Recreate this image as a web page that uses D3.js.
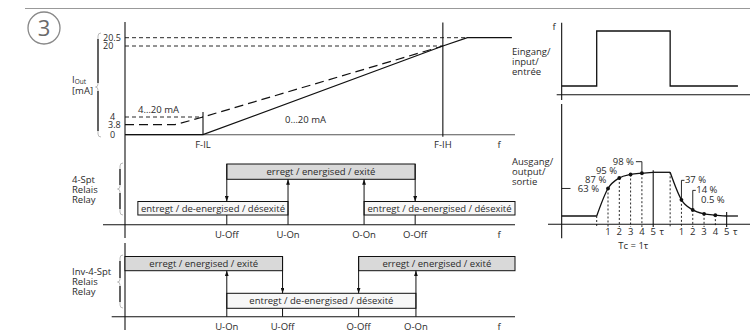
<!DOCTYPE html>
<html>
<head>
<meta charset="utf-8">
<script src="https://cdn.jsdelivr.net/npm/d3@7"></script>
<style>
  body { margin: 0; background: #fff; }
  svg text { font-family: "Liberation Sans Narrow", "Open Sans", sans-serif; font-size: 9.5px; fill: #2a2a2a; }
</style>
</head>
<body>
<div id="chart"></div>
<script>
// ---- data: analog output ----
const currentTicks = [0, 3.8, 4, 20, 20.5];
const currentTickLabels = ["0", "3.8", "4", "20", "20.5"];
const out0to20 = [[0, 0], [20, 0], [81.5, 20], [87.8, 20.5], [99.2, 20.5]];
const out4to20 = [[0, 3.8], [12.8, 3.8], [20, 4], [81.5, 20]];
const refLevels = [4, 20, 20.5];
const refLevelEnds = [20, 81.5, 87.8];
const freqMarkNames = ["F-IL", "F-IH"];
const freqMarks = [20, 81.5];

// ---- data: relay (4-Spt) ----
const sptNames = ["U-Off", "U-On", "O-On", "O-Off"];
const sptFreq = [26.1, 41.8, 61.3, 74.4];
const sptDir = ["down", "up", "up", "down"];
const sptStateText = ["erregt / energised / exité", "entregt / de-energised / désexité", "entregt / de-energised / désexité"];
const sptStateFrom = [26.1, 3.3, 61.3];
const sptStateTo = [74.4, 41.8, 100];
const sptStateOn = [true, false, false];

// ---- data: relay (Inv-4-Spt) ----
const invNames = ["U-On", "U-Off", "O-Off", "O-On"];
const invFreq = [26.1, 40.4, 59.9, 74.6];
const invDir = ["up", "down", "down", "up"];
const invStateText = ["erregt / energised / exité", "entregt / de-energised / désexité", "erregt / energised / exité"];
const invStateFrom = [0, 26.1, 59.9];
const invStateTo = [40.4, 74.6, 100];
const invStateOn = [true, false, true];

// ---- data: time response ----
const inputPulse = [[-3.1, 0], [0, 0], [0, 1], [6.5, 1], [6.5, 0], [12.5, 0]];
const riseTau = [0, 1, 2, 3, 4, 5];
const riseLevel = [0, 0.63, 0.87, 0.95, 0.98, 1];
const fallTau = [0, 1, 2, 3, 4, 5];
const fallLevel = [1, 0.37, 0.14, 0.05, 0.02, 0];
const fallStart = 6.5;
const riseLabels = ["63 %", "87 %", "95 %", "98 %"];
const fallLabels = ["37 %", "14 %", "0.5 %"];
const tauTickLabels = ["1", "2", "3", "4", "5", "τ"];
const tauTickPos = [1, 2, 3, 4, 5, 5.75];

const width = 750, height = 335;
const ink = "#111";

const svg = d3.select("#chart").append("svg")
    .attr("width", width)
    .attr("height", height);

const defs = svg.append("defs");
defs.append("marker")
    .attr("id", "arrow")
    .attr("viewBox", "0 0 10 7")
    .attr("refX", 10).attr("refY", 3.5)
    .attr("markerWidth", 5.5).attr("markerHeight", 3.8)
    .attr("markerUnits", "userSpaceOnUse")
    .attr("orient", "auto")
    .append("path").attr("d", "M0,0 L10,3.5 L0,7 Z").attr("fill", ink);

// header rule + number badge
svg.append("line").attr("x1", 25).attr("x2", 750).attr("y1", 8.5).attr("y2", 8.5)
    .attr("stroke", "#999").attr("stroke-width", 1);
svg.append("circle").attr("cx", 44).attr("cy", 28).attr("r", 16)
    .attr("fill", "none").attr("stroke", "#888").attr("stroke-width", 1.3);
svg.append("text").attr("x", 44).attr("y", 36).attr("text-anchor", "middle")
    .style("font-family", "'Open Sans', sans-serif").style("font-size", "22px").style("fill", "#6a6a6a").text("3");

// brace helper
function brace(x, y0, y1, ym) {
    const p = `M${x + 3},${y0} q-3,0 -3,3 L${x},${ym - 3} q0,3 -2.5,3 q2.5,0 2.5,3 L${x},${y1 - 3} q0,3 3,3`;
    svg.append("path").attr("d", p).attr("fill", "none").attr("stroke", "#aaa").attr("stroke-width", 0.8);
    svg.append("line").attr("x1", x).attr("x2", x).attr("y1", y0 + 6).attr("y2", ym - 4)
        .attr("stroke", ink).attr("stroke-width", 1.2);
    svg.append("line").attr("x1", x).attr("x2", x).attr("y1", ym + 4).attr("y2", y1 - 6)
        .attr("stroke", ink).attr("stroke-width", 1.2);
}

// ===== left: output current vs frequency =====
const fx = d3.scaleLinear().domain([0, 100]).range([125, 515]);
const yI = d3.scaleLinear().domain(currentTicks).range([134.7, 124.7, 117, 46, 37.7]);

const topG = svg.append("g");
// axes
topG.append("line").attr("x1", fx(0)).attr("x2", fx(0)).attr("y1", 22).attr("y2", 238)
    .attr("stroke", ink).attr("stroke-width", 1.1);
topG.append("line").attr("x1", fx(0)).attr("x2", fx(100)).attr("y1", yI(0)).attr("y2", yI(0))
    .attr("stroke", "#555").attr("stroke-width", 1.1);

// reference dashes
refLevels.forEach((lv, i) => {
    topG.append("line").attr("x1", fx(0)).attr("x2", fx(refLevelEnds[i]))
        .attr("y1", yI(lv)).attr("y2", yI(lv))
        .attr("stroke", ink).attr("stroke-width", 0.9).attr("stroke-dasharray", "4,3");
});

// tick labels (tight rows, slightly smaller)
const tickLabelX = { "0": 110, "3.8": 108, "4": 110, "20": 103, "20.5": 103 };
currentTicks.forEach((v, i) => {
    topG.append("text").attr("x", tickLabelX[currentTickLabels[i]]).attr("y", yI(v) + 3)
        .style("font-size", "9px").text(currentTickLabels[i]);
});
brace(98, 33, 137, 87);
const iLabel = topG.append("text").attr("x", 72).attr("y", 83);
iLabel.append("tspan").text("I");
iLabel.append("tspan").attr("dy", 1).style("font-size", "6.5px").text("Out");
topG.append("text").attr("x", 72).attr("y", 94).text("[mA]");

// frequency marks
freqMarks.forEach((f, i) => {
    topG.append("line").attr("x1", fx(f)).attr("x2", fx(f))
        .attr("y1", i === 0 ? yI(4) - 5 : 22.5).attr("y2", yI(0) + (i === 0 ? 0 : 2))
        .attr("stroke", ink).attr("stroke-width", 1.1);
    topG.append("text").attr("x", fx(f)).attr("y", 148).attr("text-anchor", "middle").text(freqMarkNames[i]);
});
topG.append("text").attr("x", fx(95.9)).attr("y", 148).attr("text-anchor", "middle").text("f");

const lineI = d3.line().x(d => fx(d[0])).y(d => yI(d[1]));
topG.append("path").attr("d", lineI(out4to20)).attr("fill", "none")
    .attr("stroke", ink).attr("stroke-width", 1.2).attr("stroke-dasharray", "9,5");
topG.append("path").attr("d", lineI(out0to20)).attr("fill", "none")
    .attr("stroke", ink).attr("stroke-width", 1.3);
topG.append("text").attr("x", 138).attr("y", 113).text("4…20 mA");
topG.append("text").attr("x", 285).attr("y", 123).text("0…20 mA");

// ===== relay panels =====
function drawRelay(names, freqs, dirs, texts, froms, tos, ons, geo, rowLabels) {
    const g = svg.append("g");
    g.append("line").attr("x1", geo.axisStart).attr("x2", fx(100)).attr("y1", geo.axisY).attr("y2", geo.axisY)
        .attr("stroke", ink).attr("stroke-width", 1.1);
    texts.forEach((t, i) => {
        const y0 = ons[i] ? geo.onTop : geo.offTop;
        const y1 = ons[i] ? geo.onBottom : geo.offBottom;
        g.append("rect").attr("x", fx(froms[i])).attr("y", y0)
            .attr("width", fx(tos[i]) - fx(froms[i])).attr("height", y1 - y0)
            .attr("fill", ons[i] ? "#d9d9d9" : "#f7f7f7").attr("stroke", ink).attr("stroke-width", 1);
        g.append("text").attr("x", (fx(froms[i]) + fx(tos[i])) / 2).attr("y", (y0 + y1) / 2 + 3.3)
            .attr("text-anchor", "middle").text(t);
    });
    names.forEach((n, i) => {
        const x = fx(freqs[i]);
        if (dirs[i] === "down") {
            g.append("line").attr("x1", x).attr("x2", x).attr("y1", geo.onTop).attr("y2", geo.offTop)
                .attr("stroke", ink).attr("stroke-width", 1).attr("marker-end", "url(#arrow)");
            g.append("line").attr("x1", x).attr("x2", x).attr("y1", geo.offBottom).attr("y2", geo.axisY)
                .attr("stroke", ink).attr("stroke-width", 1);
        } else {
            g.append("line").attr("x1", x).attr("x2", x).attr("y1", geo.axisY).attr("y2", geo.onBottom)
                .attr("stroke", ink).attr("stroke-width", 1).attr("marker-end", "url(#arrow)");
        }
        g.append("text").attr("x", x).attr("y", geo.labelY).attr("text-anchor", "middle").text(n);
    });
    g.append("text").attr("x", fx(95.9)).attr("y", geo.labelY).attr("text-anchor", "middle").text("f");
    rowLabels.forEach((t, i) => {
        g.append("text").attr("x", 72).attr("y", geo.rowY + i * 10).text(t);
    });
    brace(120, geo.braceTop, geo.braceBottom, geo.braceMid);
}

drawRelay(sptNames, sptFreq, sptDir, sptStateText, sptStateFrom, sptStateTo, sptStateOn,
    { onTop: 164, onBottom: 179.3, offTop: 201.5, offBottom: 215, axisY: 224.7, labelY: 238,
      axisStart: 103, rowY: 182.5, braceTop: 163, braceBottom: 215, braceMid: 189 },
    ["4-Spt", "Relais", "Relay"]);

svg.append("line").attr("x1", fx(0)).attr("x2", fx(0)).attr("y1", 243).attr("y2", 330)
    .attr("stroke", ink).attr("stroke-width", 1.1);

drawRelay(invNames, invFreq, invDir, invStateText, invStateFrom, invStateTo, invStateOn,
    { onTop: 256.5, onBottom: 270.7, offTop: 293.3, offBottom: 308.3, axisY: 316.7, labelY: 330,
      axisStart: 111.7, rowY: 275, braceTop: 255, braceBottom: 308, braceMid: 282 },
    ["Inv-4-Spt", "Relais", "Relay"]);

// ===== right: step response =====
const tx = d3.scaleLinear().domain([0, 10]).range([596.7, 709.7]);
const yIn = d3.scaleLinear().domain([0, 1]).range([86, 31]);
const yOut = d3.scaleLinear().domain([0, 1]).range([216, 172.3]);
const axX = tx(-3.1);

const r = svg.append("g");
r.append("line").attr("x1", axX).attr("x2", axX).attr("y1", 22.7).attr("y2", 100)
    .attr("stroke", ink).attr("stroke-width", 1.1);
r.append("line").attr("x1", axX).attr("x2", axX).attr("y1", 104).attr("y2", 238.3)
    .attr("stroke", ink).attr("stroke-width", 1.1);
r.append("line").attr("x1", 556.7).attr("x2", 750).attr("y1", 94.7).attr("y2", 94.7)
    .attr("stroke", ink).attr("stroke-width", 1.1);
r.append("line").attr("x1", 548).attr("x2", 750).attr("y1", 224.3).attr("y2", 224.3)
    .attr("stroke", ink).attr("stroke-width", 1.1);
r.append("text").attr("x", 554).attr("y", 30).attr("text-anchor", "middle").text("f");

["Eingang/", "input/", "entrée"].forEach((t, i) => r.append("text").attr("x", 512).attr("y", 55 + i * 10).text(t));
["Ausgang/", "output/", "sortie"].forEach((t, i) => r.append("text").attr("x", 512).attr("y", 165 + i * 10).text(t));

const lineIn = d3.line().x(d => tx(d[0])).y(d => yIn(d[1]));
r.append("path").attr("d", lineIn(inputPulse)).attr("fill", "none").attr("stroke", ink).attr("stroke-width", 1.3);

const lineOut = d3.line().x(d => tx(d[0])).y(d => yOut(d[1]));
const curveOut = d3.line().x(d => tx(d[0])).y(d => yOut(d[1])).curve(d3.curveMonotoneX);
const rise = riseTau.map((t, i) => [t, riseLevel[i]]);
const fall = fallTau.map((t, i) => [fallStart + t, fallLevel[i]]);

// guide lines
rise.forEach((d, i) => {
    const last = i === rise.length - 1;
    r.append("line").attr("x1", tx(d[0])).attr("x2", tx(d[0]))
        .attr("y1", yOut(d[1]) - (last ? 2 : 0)).attr("y2", 227)
        .attr("stroke", ink).attr("stroke-width", last ? 1.1 : 0.9)
        .attr("stroke-dasharray", last ? null : "2,2");
});
fall.forEach((d, i) => {
    const last = i === fall.length - 1;
    r.append("line").attr("x1", tx(d[0])).attr("x2", tx(d[0]))
        .attr("y1", yOut(d[1]) - (last ? 4 : 0)).attr("y2", 227)
        .attr("stroke", ink).attr("stroke-width", last ? 1.1 : 0.9)
        .attr("stroke-dasharray", last ? null : "2,2");
});

r.append("path").attr("d", lineOut([[-3.1, 0], [0, 0]])).attr("fill", "none").attr("stroke", ink).attr("stroke-width", 1.3);
r.append("path").attr("d", curveOut(rise)).attr("fill", "none").attr("stroke", ink).attr("stroke-width", 1.3);
r.append("path").attr("d", lineOut([[5, 1], [fallStart, 1]])).attr("fill", "none").attr("stroke", ink).attr("stroke-width", 1.3);
r.append("path").attr("d", curveOut(fall)).attr("fill", "none").attr("stroke", ink).attr("stroke-width", 1.3);
r.append("path").attr("d", lineOut([[fallStart + 5, 0], [12.5, 0]])).attr("fill", "none").attr("stroke", ink).attr("stroke-width", 1.3);

// dots
rise.slice(1, 5).concat(fall.slice(1, 5)).forEach(d => {
    r.append("circle").attr("cx", tx(d[0])).attr("cy", yOut(d[1])).attr("r", 1.9).attr("fill", ink);
});

// tau ticks
tauTickPos.forEach((p, i) => {
    r.append("text").attr("x", tx(p)).attr("y", 235).attr("text-anchor", "middle").text(tauTickLabels[i]);
    r.append("text").attr("x", tx(fallStart + p)).attr("y", 235).attr("text-anchor", "middle").text(tauTickLabels[i]);
});
r.append("text").attr("x", 633.3).attr("y", 249).attr("text-anchor", "middle").text("Tc = 1τ");

// percentage labels (rise)
const riseLabelDx = [-9, -13, -13.5, -8];
const riseLabelDy = [3.3, 5, -0.5, -8];
riseLabels.forEach((t, i) => {
    const d = rise[i + 1];
    r.append("text").attr("x", tx(d[0]) + riseLabelDx[i]).attr("y", yOut(d[1]) + riseLabelDy[i])
        .attr("text-anchor", "end").text(t);
});
r.append("line").attr("x1", axX).attr("x2", 570.5).attr("y1", yOut(rise[1][1])).attr("y2", yOut(rise[1][1]))
    .attr("stroke", ink).attr("stroke-width", 0.9);
const p98 = rise[4];
r.append("path").attr("d", `M${tx(p98[0]) - 6},${yOut(p98[1]) - 11.5} H${tx(p98[0])} V${yOut(p98[1])}`)
    .attr("fill", "none").attr("stroke", ink).attr("stroke-width", 0.9);

// percentage labels (fall)
const fallLabelDy = [-16.5, -16.5, -11];
fallLabels.forEach((t, i) => {
    const d = fall[i + 1];
    const x = tx(d[0]), y = yOut(d[1]);
    if (i < 2) {
        r.append("path").attr("d", `M${x},${y} V${y + fallLabelDy[i] - 3} h3`)
            .attr("fill", "none").attr("stroke", ink).attr("stroke-width", 0.9);
        r.append("text").attr("x", x + 3.5).attr("y", y + fallLabelDy[i]).text(t);
    } else {
        r.append("text").attr("x", x - 3).attr("y", y + fallLabelDy[i]).text(t);
    }
});
</script>
</body>
</html>
